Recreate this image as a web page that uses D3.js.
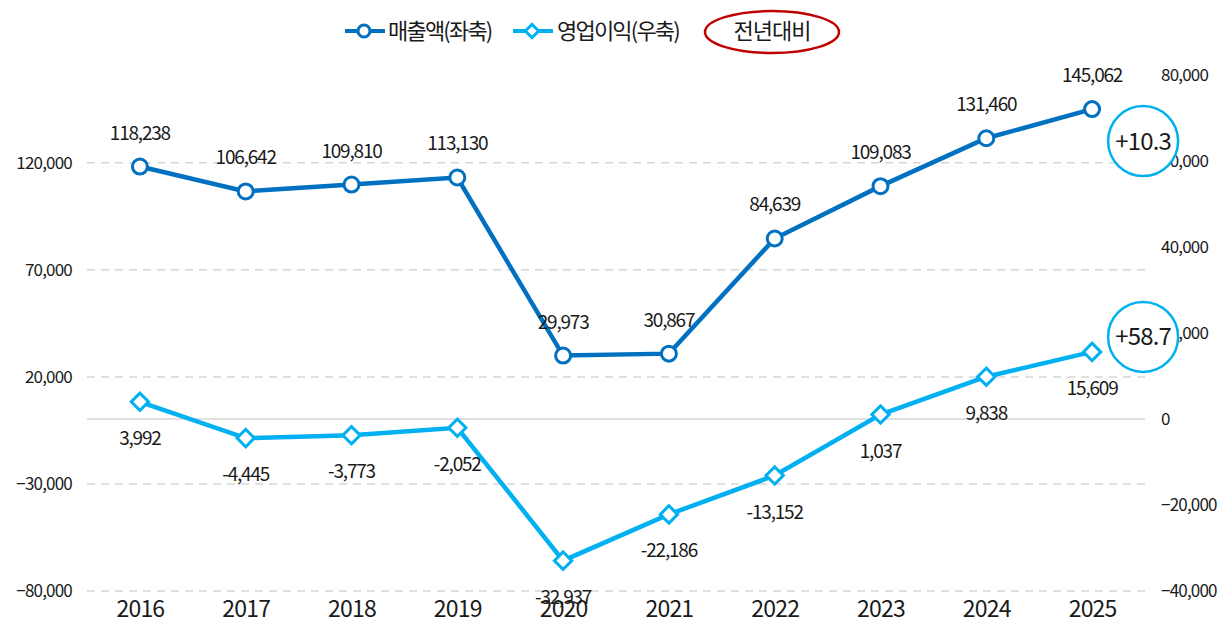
<!DOCTYPE html>
<html>
<head>
<meta charset="utf-8">
<script src="https://cdn.jsdelivr.net/npm/d3@7"></script>
<style>
  body { margin: 0; background: #fff; }
  text { font-family: "Noto Sans CJK KR", "Noto Sans", sans-serif; fill: #1a1a1a; }
</style>
</head>
<body>
<div id="chart"></div>
<script>
// Chart data
const years = ["2016", "2017", "2018", "2019", "2020", "2021", "2022", "2023", "2024", "2025"];
const sales = [118238, 106642, 109810, 113130, 29973, 30867, 84639, 109083, 131460, 145062];  // 매출액 (left axis)
const profit = [3992, -4445, -3773, -2052, -32937, -22186, -13152, 1037, 9838, 15609];        // 영업이익 (right axis)
const leftTicks = [-80000, -30000, 20000, 70000, 120000];
const rightTicks = [-40000, -20000, 0, 20000, 40000, 60000, 80000];
const seriesNames = ["매출액(좌축)", "영업이익(우축)"];
const yoyLabel = "전년대비";
const yoyValues = ["+10.3", "+58.7"];

const width = 1229, height = 639;
const padding = {top: 75, right: 84, bottom: 48, left: 87};
const blue = "#0070c0", sky = "#00b0f0";

const svg = d3.select("#chart").append("svg")
    .attr("width", width)
    .attr("height", height);

// Scales
const xScale = d3.scalePoint()
    .domain(years)
    .range([padding.left, width - padding.right])
    .padding(0.5);

const yLeft = d3.scaleLinear()
    .domain([-80000, 161000])
    .range([height - padding.bottom, padding.top]);

const yRight = d3.scaleLinear()
    .domain([-40000, 80000])
    .range([height - padding.bottom, padding.top]);

const fmt = d3.format(",");

// Dashed grid lines from the left axis
svg.append("g")
    .selectAll("line")
    .data(leftTicks)
    .enter().append("line")
    .attr("x1", padding.left)
    .attr("x2", width - padding.right)
    .attr("y1", d => yLeft(d))
    .attr("y2", d => yLeft(d))
    .attr("stroke", "#d6d6d6")
    .attr("stroke-width", 1.5)
    .attr("stroke-dasharray", "8,6");

// Solid zero line of the right axis
svg.append("line")
    .attr("x1", padding.left)
    .attr("x2", width - padding.right)
    .attr("y1", yRight(0))
    .attr("y2", yRight(0))
    .attr("stroke", "#d6d6d6")
    .attr("stroke-width", 1.5);

// Left axis
const leftAxis = svg.append("g")
    .attr("transform", "translate(" + (padding.left - 15) + ",0)")
    .call(d3.axisLeft(yLeft).tickValues(leftTicks).tickFormat(fmt).tickSize(0).tickPadding(0));
leftAxis.select(".domain").remove();
leftAxis.selectAll("text")
    .style("font-family", "'Noto Sans CJK KR', sans-serif")
    .style("font-size", "17px")
    .style("letter-spacing", "-0.8px")
    .attr("fill", "#1a1a1a");

// Right axis
const rightAxis = svg.append("g")
    .attr("transform", "translate(" + (width - padding.right + 16) + ",0)")
    .call(d3.axisRight(yRight).tickValues(rightTicks).tickFormat(fmt).tickSize(0).tickPadding(0));
rightAxis.select(".domain").remove();
rightAxis.selectAll("text")
    .style("font-family", "'Noto Sans CJK KR', sans-serif")
    .style("font-size", "17px")
    .style("letter-spacing", "-0.8px")
    .attr("fill", "#1a1a1a");

// x axis (year labels)
const xAxis = svg.append("g")
    .attr("transform", "translate(0," + (height - padding.bottom) + ")")
    .call(d3.axisBottom(xScale).tickSize(0).tickPadding(10));
xAxis.select(".domain").remove();
xAxis.selectAll("text")
    .style("font-family", "'Noto Sans CJK KR', sans-serif")
    .style("font-size", "23px")
    .style("font-weight", 400)
    .style("letter-spacing", "-0.8px")
    .attr("fill", "#1a1a1a");

// Lines
const salesLine = d3.line().x((d, i) => xScale(years[i])).y(d => yLeft(d));
const profitLine = d3.line().x((d, i) => xScale(years[i])).y(d => yRight(d));

svg.append("path")
    .datum(sales)
    .attr("d", salesLine)
    .attr("fill", "none")
    .attr("stroke", blue)
    .attr("stroke-width", 4.5);

svg.append("path")
    .datum(profit)
    .attr("d", profitLine)
    .attr("fill", "none")
    .attr("stroke", sky)
    .attr("stroke-width", 4.5);

// Markers
svg.selectAll(".dot")
    .data(sales)
    .enter().append("circle")
    .attr("class", "dot")
    .attr("cx", (d, i) => xScale(years[i]))
    .attr("cy", d => yLeft(d))
    .attr("r", 7.5)
    .attr("fill", "#fff")
    .attr("stroke", blue)
    .attr("stroke-width", 3);

const diamond = d3.symbol().type(d3.symbolSquare).size(150);
svg.selectAll(".diamond")
    .data(profit)
    .enter().append("path")
    .attr("class", "diamond")
    .attr("d", diamond)
    .attr("transform", (d, i) => "translate(" + xScale(years[i]) + "," + yRight(d) + ") rotate(45)")
    .attr("fill", "#fff")
    .attr("stroke", sky)
    .attr("stroke-width", 3);

// Value labels
svg.selectAll(".salesLabel")
    .data(sales)
    .enter().append("text")
    .attr("class", "salesLabel")
    .attr("x", (d, i) => xScale(years[i]))
    .attr("y", d => yLeft(d) - 27)
    .style("text-anchor", "middle")
    .style("font-size", "19px")
    .style("letter-spacing", "-1.2px")
    .text(d => fmt(d));

svg.selectAll(".profitLabel")
    .data(profit)
    .enter().append("text")
    .attr("class", "profitLabel")
    .attr("x", (d, i) => xScale(years[i]))
    .attr("y", d => yRight(d) + 43)
    .style("text-anchor", "middle")
    .style("font-size", "19px")
    .style("letter-spacing", "-1.2px")
    .text(d => fmt(d).replace("−", "-"));

// Year-on-year callouts next to the last point
const last = years.length - 1;
const callouts = [
    {text: yoyValues[0], x: xScale(years[last]) + 51, y: yLeft(sales[last]) + 32},
    {text: yoyValues[1], x: xScale(years[last]) + 51, y: yRight(profit[last]) - 15}
];
const callout = svg.selectAll(".callout")
    .data(callouts)
    .enter().append("g")
    .attr("class", "callout")
    .attr("transform", d => "translate(" + d.x + "," + d.y + ")");
callout.append("circle")
    .attr("r", 35)
    .attr("fill", "#fff")
    .attr("stroke", sky)
    .attr("stroke-width", 2.5);
callout.append("text")
    .attr("dy", "0.35em")
    .style("text-anchor", "middle")
    .style("font-size", "24px")
    .style("letter-spacing", "-0.8px")
    .text(d => d.text);

// Legend
const legend = svg.append("g").attr("transform", "translate(0,31)");

legend.append("line")
    .attr("x1", 345).attr("x2", 385)
    .attr("stroke", blue).attr("stroke-width", 4);
legend.append("circle")
    .attr("cx", 364).attr("r", 6)
    .attr("fill", "#fff").attr("stroke", blue).attr("stroke-width", 3);
legend.append("text")
    .attr("x", 388).attr("dy", "0.35em")
    .style("font-size", "22px")
    .style("letter-spacing", "-1.8px")
    .text(seriesNames[0]);

legend.append("line")
    .attr("x1", 513).attr("x2", 553)
    .attr("stroke", sky).attr("stroke-width", 4);
legend.append("path")
    .attr("d", d3.symbol().type(d3.symbolSquare).size(90))
    .attr("transform", "translate(532,0) rotate(45)")
    .attr("fill", "#fff").attr("stroke", sky).attr("stroke-width", 3);
legend.append("text")
    .attr("x", 557).attr("dy", "0.35em")
    .style("font-size", "22px")
    .style("letter-spacing", "-1.8px")
    .text(seriesNames[1]);

legend.append("ellipse")
    .attr("cx", 772).attr("cy", 1)
    .attr("rx", 67).attr("ry", 21)
    .attr("fill", "none")
    .attr("stroke", "#c00000")
    .attr("stroke-width", 2.5);
legend.append("text")
    .attr("x", 772).attr("dy", "0.35em")
    .style("text-anchor", "middle")
    .style("font-size", "22px")
    .style("letter-spacing", "-1px")
    .text(yoyLabel);
</script>
</body>
</html>
